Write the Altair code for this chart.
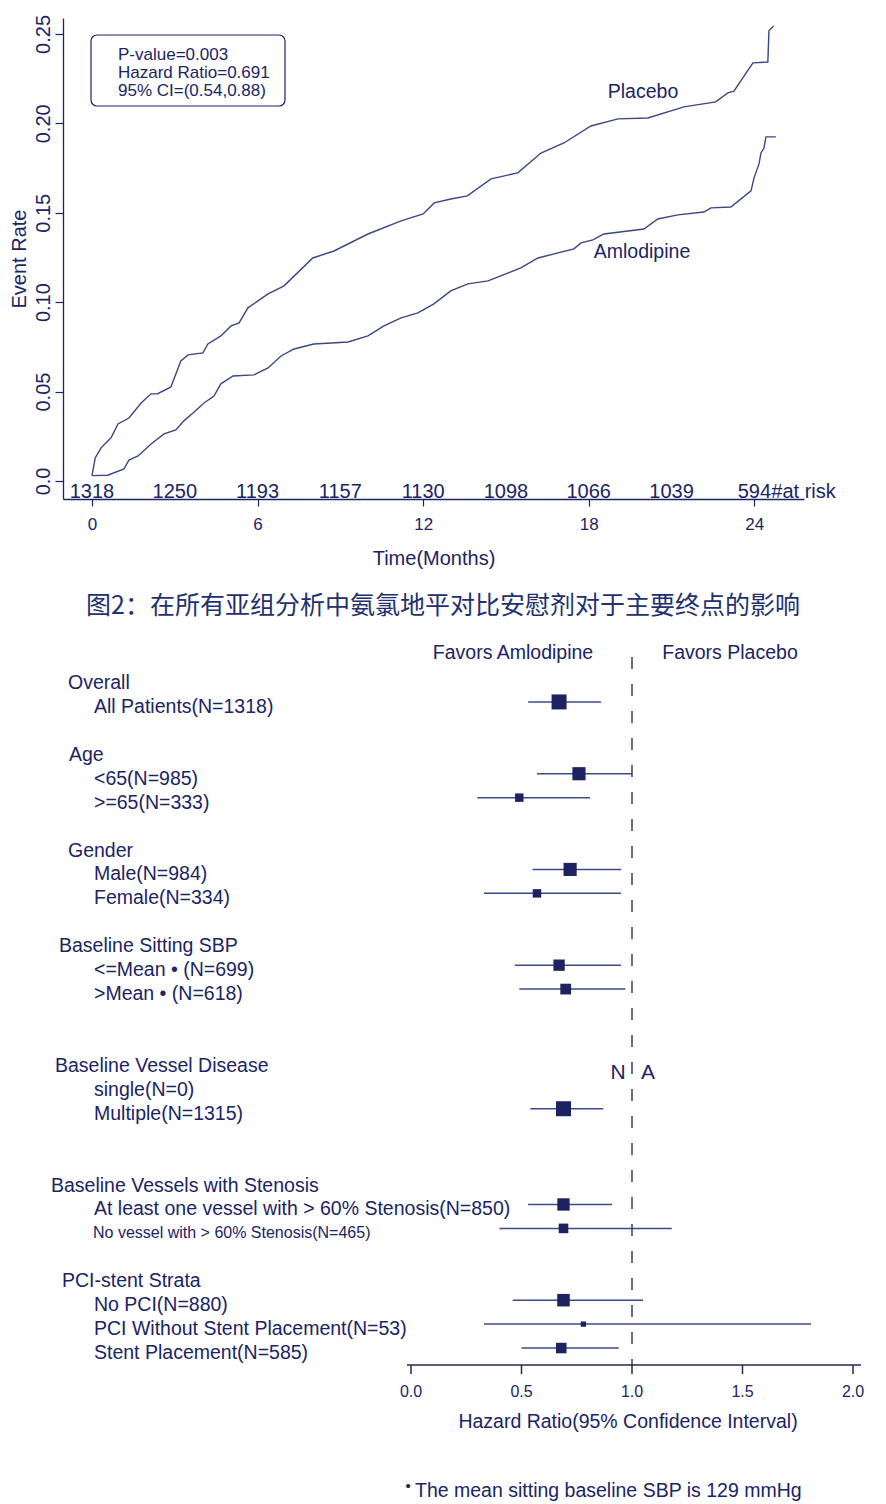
import altair as alt
import pandas as pd

# ---------------- data: event-rate curves ----------------
placebo_month = [0.0, 0.12, 0.33, 0.69, 0.94, 1.34, 1.78, 2.14, 2.38, 2.86, 3.22, 3.48, 4.02, 4.20,
                 4.67, 5.04, 5.33, 5.65, 6.38, 6.96, 8.0, 8.77, 10.0, 11.2, 12.0, 12.4, 13.0, 13.6,
                 14.46, 15.43, 16.27, 17.1, 18.08, 19.06, 20.14, 21.45, 22.6, 23.04, 23.26, 23.95,
                 24.49, 24.53, 24.7]
placebo_rate = [0.003, 0.013, 0.0185, 0.0241, 0.0319, 0.0352, 0.0436, 0.0487, 0.0488, 0.0526, 0.0671,
                0.0705, 0.0716, 0.0766, 0.0811, 0.0867, 0.0884, 0.0968, 0.1046, 0.1091, 0.1247, 0.1286,
                0.1381, 0.1454, 0.1493, 0.1555, 0.1577, 0.1594, 0.1689, 0.1723, 0.1834, 0.189, 0.1985,
                0.2025, 0.2030, 0.2092, 0.212, 0.217, 0.218, 0.2338, 0.2343, 0.2517, 0.2545]
amlodipine_month = [0.0, 0.57, 1.16, 1.34, 1.67, 2.14, 2.61, 3.04, 3.33, 3.66, 4.06, 4.42, 4.67, 5.11,
                    5.87, 6.38, 6.85, 7.32, 8.04, 9.28, 10.0, 10.58, 11.2, 11.81, 12.39, 13.0, 13.62,
                    14.35, 15.54, 16.16, 17.46, 17.72, 18.15, 18.55, 20.0, 20.5, 21.23, 22.17, 22.43,
                    23.15, 23.88, 23.99, 24.17, 24.24, 24.35, 24.42, 24.78]
amlodipine_rate = [0.003, 0.0032, 0.0067, 0.0117, 0.014, 0.0207, 0.0263, 0.0285, 0.0336, 0.038, 0.0436,
                   0.0475, 0.0543, 0.0587, 0.0593, 0.0632, 0.0699, 0.0738, 0.0766, 0.0777, 0.0811,
                   0.0867, 0.0912, 0.094, 0.099, 0.1063, 0.1102, 0.1119, 0.1191, 0.1247, 0.1298, 0.1331,
                   0.1348, 0.1381, 0.1409, 0.1465, 0.1488, 0.1504, 0.1527, 0.1532, 0.1622, 0.1695,
                   0.1773, 0.1834, 0.1862, 0.1924, 0.1924]
at_risk_month = [0, 3, 6, 9, 12, 15, 18, 21, 24]
at_risk_n = ["1318", "1250", "1193", "1157", "1130", "1098", "1066", "1039", "594"]
stats_lines = ["P-value=0.003", "Hazard Ratio=0.691", "95% CI=(0.54,0.88)"]
x_ticks = [0, 6, 12, 18, 24]
y_ticks = [0, 0.05, 0.10, 0.15, 0.20, 0.25]

# ---------------- data: forest plot ----------------
forest_groups = ["Overall", "Age", "Gender", "Baseline Sitting SBP", "Baseline Vessel Disease",
                 "Baseline Vessels with Stenosis", "PCI-stent Strata"]
forest_labels = ["All Patients(N=1318)", "<65(N=985)", ">=65(N=333)", "Male(N=984)", "Female(N=334)",
                 "<=Mean \u2022 (N=699)", ">Mean \u2022 (N=618)", "single(N=0)", "Multiple(N=1315)",
                 "At least one vessel with > 60% Stenosis(N=850)",
                 "No vessel with > 60% Stenosis(N=465)",
                 "No PCI(N=880)", "PCI Without Stent Placement(N=53)", "Stent Placement(N=585)"]
forest_group_of = [0, 1, 1, 2, 2, 3, 3, 4, 4, 5, 5, 6, 6, 6]
forest_n = [1318, 985, 333, 984, 334, 699, 618, 0, 1315, 850, 465, 880, 53, 585]
forest_hr = [0.67, 0.76, 0.49, 0.72, 0.57, 0.67, 0.70, None, 0.69, 0.69, 0.69, 0.69, 0.78, 0.68]
forest_lo = [0.53, 0.57, 0.30, 0.55, 0.33, 0.47, 0.49, None, 0.54, 0.53, 0.40, 0.46, 0.33, 0.50]
forest_hi = [0.86, 1.00, 0.81, 0.95, 0.95, 0.95, 0.97, None, 0.87, 0.91, 1.18, 1.05, 1.81, 0.94]
hr_ticks = [0.0, 0.5, 1.0, 1.5, 2.0]
caption = "图2：在所有亚组分析中氨氯地平对比安慰剂对于主要终点的影响"
footnote = "The mean sitting baseline SBP is 129 mmHg"

# ---------------- styles / layout ----------------
NAVY = "#1b2464"
LINE = "#3a4781"
SQUARE = "#1d2360"
FONT = "Liberation Sans"

KM_W, KM_H = 741, 481
X_DOM = [-1.05, 25.8]
Y_DOM = [-0.0101, 0.2589]


def kx(px):
    return X_DOM[0] + (px - 62) / KM_W * (X_DOM[1] - X_DOM[0])


def ky(py):
    return Y_DOM[1] - (py - 17) / KM_H * (Y_DOM[1] - Y_DOM[0])


xs = alt.Scale(domain=X_DOM, nice=False, zero=False)
ys = alt.Scale(domain=Y_DOM, nice=False, zero=False)

km = pd.concat([
    pd.DataFrame({"month": placebo_month, "rate": placebo_rate, "series": "Placebo"}),
    pd.DataFrame({"month": amlodipine_month, "rate": amlodipine_rate, "series": "Amlodipine"}),
])

x_axis = alt.Axis(values=x_ticks, title="Time(Months)", grid=False, tickSize=7, labelPadding=10,
                  labelFontSize=17, titleFontSize=20, titlePadding=16, titleFontWeight="normal",
                  domainColor=NAVY, tickColor=NAVY, labelColor=NAVY, titleColor=NAVY,
                  domainWidth=1.3, tickWidth=1.2, labelFont=FONT, titleFont=FONT)
y_axis = alt.Axis(values=y_ticks, labelExpr="datum.value == 0 ? '0.0' : format(datum.value, '.2f')",
                  title="Event Rate", grid=False, tickSize=8, labelAngle=270, labelAlign="center",
                  labelBaseline="bottom", labelPadding=2, labelFontSize=20, titleFontSize=20,
                  titlePadding=4, titleFontWeight="normal", domainColor=NAVY, tickColor=NAVY,
                  labelColor=NAVY, titleColor=NAVY, domainWidth=1.3, tickWidth=1.2,
                  labelFont=FONT, titleFont=FONT, labelFlush=False)

lines = alt.Chart(km).mark_line(color=LINE, strokeWidth=1.4).encode(
    x=alt.X("month:Q", scale=xs, axis=x_axis),
    y=alt.Y("rate:Q", scale=ys, axis=y_axis),
    detail="series:N",
    order="month:Q",
)

box_df = pd.DataFrame({"x0": [kx(90)], "x1": [kx(284)], "y0": [ky(34)], "y1": [ky(105)]})
box = alt.Chart(box_df).mark_rect(fillOpacity=0, stroke=NAVY, strokeWidth=1.2, cornerRadius=6).encode(
    x=alt.X("x0:Q", scale=xs), x2="x1:Q", y=alt.Y("y0:Q", scale=ys), y2="y1:Q")

stats_df = pd.DataFrame({"t": stats_lines, "x": [kx(117)] * 3, "y": [ky(54), ky(72), ky(90)]})
stats = alt.Chart(stats_df).mark_text(align="left", baseline="middle", fontSize=17, font=FONT,
                                      color=NAVY).encode(
    x=alt.X("x:Q", scale=xs), y=alt.Y("y:Q", scale=ys), text="t:N")

name_df = pd.DataFrame({"t": ["Placebo", "Amlodipine"], "x": [kx(642), kx(641)], "y": [ky(91), ky(251)]})
names = alt.Chart(name_df).mark_text(align="center", baseline="middle", fontSize=19.5, font=FONT,
                                     color=NAVY).encode(
    x=alt.X("x:Q", scale=xs), y=alt.Y("y:Q", scale=ys), text="t:N")

risk_df = pd.DataFrame({"month": at_risk_month, "n": at_risk_n, "y": [Y_DOM[0]] * len(at_risk_n)})
risk = alt.Chart(risk_df).mark_text(align="center", baseline="alphabetic", fontSize=20, font=FONT,
                                    color=NAVY, dy=-1).encode(
    x=alt.X("month:Q", scale=xs), y=alt.Y("y:Q", scale=ys), text="n:N")
risk_lbl = alt.Chart(pd.DataFrame({"month": [at_risk_month[-1]], "y": [Y_DOM[0]], "t": ["#at risk"]})).mark_text(
    align="left", baseline="alphabetic", fontSize=20, font=FONT, color=NAVY, dx=17, dy=-1).encode(
    x=alt.X("month:Q", scale=xs), y=alt.Y("y:Q", scale=ys), text="t:N")

top = alt.layer(lines, box, stats, names, risk, risk_lbl).properties(width=KM_W, height=KM_H)

# ---------------- forest plot ----------------
FP_W, FP_H = 800, 911
FP_LEFT, FP_TOP = 62, 585
PX_PER_HR = 221.0
HR0_PX = 410.0
ROW0_PX = 676.0
ROW_STEP = 23.93


def fx(px):
    return (px - HR0_PX) / PX_PER_HR


def fr(py):
    return (py - ROW0_PX) / ROW_STEP


HR_DOM = [fx(FP_LEFT), fx(FP_LEFT + FP_W)]
ROW_DOM = [fr(FP_TOP), fr(FP_TOP + FP_H)]
hs = alt.Scale(domain=HR_DOM, nice=False, zero=False)
rs = alt.Scale(domain=ROW_DOM, nice=False, zero=False, reverse=True)

blank_before = [0, 1, 1, 1, 2, 2, 1]
header_px = [67, 68, 67, 58, 54, 50, 61]
item_px = 93
small_items = {10}

rows_text = []
item_row = []
r = 0
for g, name in enumerate(forest_groups):
    r += blank_before[g]
    rows_text.append({"t": name, "x": fx(header_px[g]), "r": r, "fs": 19.5})
    r += 1
    for i, gi in enumerate(forest_group_of):
        if gi == g:
            rows_text.append({"t": forest_labels[i], "x": fx(item_px - (1 if i in small_items else 0)),
                              "r": r, "fs": 16 if i in small_items else 19.5})
            item_row.append((i, r))
            r += 1

est = pd.DataFrame({
    "label": forest_labels, "n": forest_n, "hr": forest_hr, "lo": forest_lo, "hi": forest_hi,
    "r": [rr for _, rr in sorted(item_row)],
}).dropna()

text_df = pd.DataFrame(rows_text)

xenc = lambda f: alt.X(f, scale=hs, axis=None)
yenc = lambda f: alt.Y(f, scale=rs, axis=None)

ref_line = alt.Chart(pd.DataFrame({"x": [1.0], "r0": [fr(655)], "r1": [fr(1363)]})).mark_rule(
    color="#2a2f5c", strokeWidth=1.4, strokeDash=[12, 15]).encode(
    x=xenc("x:Q"), y=yenc("r0:Q"), y2="r1:Q")

ci = alt.Chart(est).mark_rule(color="#3b4a8a", strokeWidth=1.5).encode(
    x=xenc("lo:Q"), x2="hi:Q", y=yenc("r:Q"))

sq = alt.Chart(est).mark_square(color=SQUARE, opacity=1, filled=True).encode(
    x=xenc("hr:Q"), y=yenc("r:Q"),
    size=alt.Size("n:Q", scale=alt.Scale(domain=[0, 1318], range=[20, 225]), legend=None))

labels = alt.Chart(text_df).mark_text(align="left", baseline="middle", font=FONT, color=NAVY, dy=5).encode(
    x=xenc("x:Q"), y=yenc("r:Q"), text="t:N", size=alt.Size("fs:Q", scale=None))

ann_df = pd.DataFrame([
    {"t": "Favors Amlodipine", "x": fx(512), "r": fr(651), "fs": 19.5},
    {"t": "Favors Placebo", "x": fx(729), "r": fr(651), "fs": 19.5},
    {"t": "N", "x": fx(617), "r": fr(1071), "fs": 21},
    {"t": "A", "x": fx(647), "r": fr(1071), "fs": 21},
    {"t": "Hazard Ratio(95% Confidence Interval)", "x": fx(627), "r": fr(1420), "fs": 19.5},
] + [{"t": f"{v:.1f}", "x": v, "r": fr(1390), "fs": 16} for v in hr_ticks])
ann = alt.Chart(ann_df).mark_text(align="center", baseline="middle", font=FONT, color=NAVY).encode(
    x=xenc("x:Q"), y=yenc("r:Q"), text="t:N", size=alt.Size("fs:Q", scale=None))

foot = alt.Chart(pd.DataFrame({"t": [footnote], "x": [fx(414)], "r": [fr(1489)]})).mark_text(
    align="left", baseline="middle", font=FONT, color=NAVY, fontSize=19.5).encode(
    x=xenc("x:Q"), y=yenc("r:Q"), text="t:N")
bullet = alt.Chart(pd.DataFrame({"t": ["\u2022"], "x": [fx(407)], "r": [fr(1484)]})).mark_text(
    align="center", baseline="middle", font=FONT, color=NAVY, fontSize=15).encode(
    x=xenc("x:Q"), y=yenc("r:Q"), text="t:N")

cap = alt.Chart(pd.DataFrame({"t": [caption], "x": [fx(442)], "r": [fr(604)]})).mark_text(
    align="center", baseline="middle", font="Noto Sans CJK SC", color="#22306e", fontSize=25).encode(
    x=xenc("x:Q"), y=yenc("r:Q"), text="t:N")

axis_line = alt.Chart(pd.DataFrame({"x0": [fx(406)], "x1": [fx(860)], "r": [fr(1363)]})).mark_rule(
    color="#23284f", strokeWidth=1.5).encode(x=xenc("x0:Q"), x2="x1:Q", y=yenc("r:Q"))
ticks = alt.Chart(pd.DataFrame({"x": hr_ticks, "r0": [fr(1363)] * 5, "r1": [fr(1372)] * 5})).mark_rule(
    color="#23284f", strokeWidth=1.5).encode(x=xenc("x:Q"), y=yenc("r0:Q"), y2="r1:Q")

bottom = alt.layer(ref_line, ci, sq, labels, ann, foot, bullet, cap, axis_line, ticks).properties(
    width=FP_W, height=FP_H)

chart = alt.vconcat(top, bottom, spacing=19).properties(
    padding={"left": 1, "top": 6, "right": 0, "bottom": 0}
).configure(font=FONT, background="white").configure_view(stroke="transparent", strokeWidth=0)

chart.save("out.html", embed_options={"renderer": "svg", "actions": False})
